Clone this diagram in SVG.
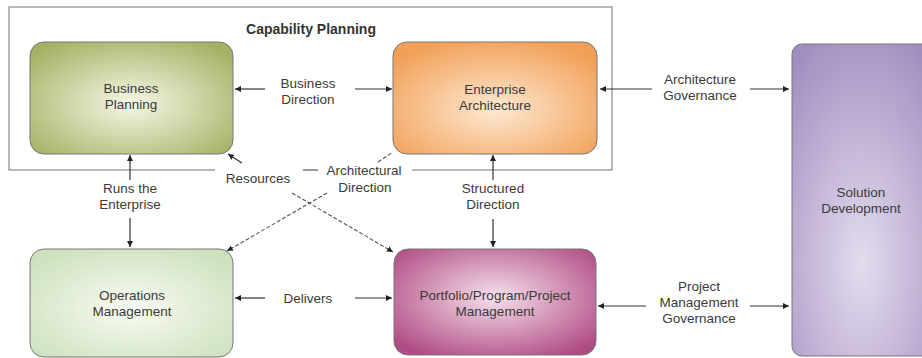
<svg xmlns="http://www.w3.org/2000/svg" width="922" height="358" viewBox="0 0 922 358">
<style>
text{font-family:"Liberation Sans",Arial,sans-serif;font-size:13.5px;fill:#3a3a3a;text-anchor:middle}
.title{font-weight:bold;fill:#333;font-size:14px}
.box{stroke:#777;stroke-width:1}
.c{stroke:#333;stroke-width:1.2;fill:none}
.d{stroke:#555;stroke-width:1.1;fill:none;stroke-dasharray:4 2}
.frame{fill:none;stroke:#888;stroke-width:1.2}
</style>
<defs>
<radialGradient id="gBP" cx="50%" cy="55%" r="65%"><stop offset="0" stop-color="#f6f7e6"/><stop offset="1" stop-color="#a6b165"/></radialGradient>
<radialGradient id="gEA" cx="50%" cy="60%" r="65%"><stop offset="0" stop-color="#fde9d2"/><stop offset="1" stop-color="#f2a058"/></radialGradient>
<radialGradient id="gOM" cx="50%" cy="55%" r="65%"><stop offset="0" stop-color="#f8fbf3"/><stop offset="1" stop-color="#cde1bd"/></radialGradient>
<radialGradient id="gPM" cx="50%" cy="45%" r="65%"><stop offset="0" stop-color="#f6e0ec"/><stop offset="1" stop-color="#b04c84"/></radialGradient>
<radialGradient id="gSD" cx="50%" cy="70%" r="80%" fx="50%" fy="70%"><stop offset="0" stop-color="#e4dcee"/><stop offset="1" stop-color="#a18ec0"/></radialGradient>
<marker id="ah" viewBox="0 0 10 10" refX="10" refY="5" markerWidth="6" markerHeight="6" orient="auto" markerUnits="userSpaceOnUse"><path d="M0,0 L10,5 L0,10 z" fill="#222"/></marker>
</defs>
<rect width="922" height="358" fill="#fff"/>
<g id="capability-planning">
<rect class="frame" x="9" y="7" width="603" height="163"/>
<rect x="215" y="163" width="88" height="16" fill="#fff"/>
<rect x="318" y="163" width="94" height="16" fill="#fff"/>
<line x1="303" y1="170" x2="318" y2="170" stroke="#888" stroke-width="1.2"/>
<text class="title" x="311" y="34">Capability Planning</text>
</g>
<g id="business-planning">
<rect class="box" x="30" y="42" width="203" height="112" rx="14" fill="url(#gBP)"/>
<text x="131" y="93">Business</text>
<text x="131" y="109">Planning</text>
</g>
<g id="enterprise-architecture">
<rect class="box" x="393" y="42" width="204" height="112" rx="14" fill="url(#gEA)"/>
<text x="495" y="94">Enterprise</text>
<text x="495" y="110">Architecture</text>
</g>
<g id="solution-development">
<rect class="box" x="792" y="44" width="140" height="312" rx="10" fill="url(#gSD)"/>
<text x="861" y="197">Solution</text>
<text x="861" y="213">Development</text>
</g>
<g id="operations-management">
<rect class="box" x="30" y="249" width="203" height="108" rx="14" fill="url(#gOM)"/>
<text x="132" y="300">Operations</text>
<text x="132" y="316">Management</text>
</g>
<g id="portfolio-management">
<rect class="box" x="394" y="249" width="202" height="106" rx="14" fill="url(#gPM)"/>
<text x="495" y="300">Portfolio/Program/Project</text>
<text x="495" y="316">Management</text>
</g>
<g id="connectors">
<line class="c" x1="265" y1="89" x2="235" y2="89" marker-end="url(#ah)"/>
<line class="c" x1="355" y1="89" x2="392" y2="89" marker-end="url(#ah)"/>
<line class="c" x1="652" y1="89" x2="600" y2="89" marker-end="url(#ah)"/>
<line class="c" x1="750" y1="89" x2="789" y2="89" marker-end="url(#ah)"/>
<line class="c" x1="130" y1="180" x2="130" y2="155" marker-end="url(#ah)"/>
<line class="c" x1="130" y1="218" x2="130" y2="247" marker-end="url(#ah)"/>
<line class="c" x1="493" y1="180" x2="493" y2="155" marker-end="url(#ah)"/>
<line class="c" x1="493" y1="219" x2="493" y2="247" marker-end="url(#ah)"/>
<line class="c" x1="265" y1="298" x2="235" y2="298" marker-end="url(#ah)"/>
<line class="c" x1="355" y1="298" x2="392" y2="298" marker-end="url(#ah)"/>
<line class="c" x1="646" y1="306" x2="598" y2="306" marker-end="url(#ah)"/>
<line class="c" x1="750" y1="306" x2="789" y2="306" marker-end="url(#ah)"/>
<line class="c" x1="242" y1="163" x2="228" y2="154" marker-end="url(#ah)"/>
<line class="d" x1="378" y1="162" x2="393" y2="152"/>
<line class="d" x1="292" y1="193" x2="393" y2="252" marker-end="url(#ah)"/>
<line class="d" x1="327" y1="193" x2="227" y2="251" marker-end="url(#ah)"/>
</g>
<g id="labels">
<text x="308" y="88">Business</text>
<text x="308" y="104">Direction</text>
<text x="700" y="84">Architecture</text>
<text x="700" y="100">Governance</text>
<text x="130" y="193">Runs the</text>
<text x="130" y="209">Enterprise</text>
<text x="258" y="183">Resources</text>
<text x="364" y="175">Architectural</text>
<text x="365" y="192">Direction</text>
<text x="493" y="193">Structured</text>
<text x="493" y="209">Direction</text>
<text x="308" y="303">Delivers</text>
<text x="699" y="291">Project</text>
<text x="699" y="307">Management</text>
<text x="699" y="323">Governance</text>
</g>
</svg>
